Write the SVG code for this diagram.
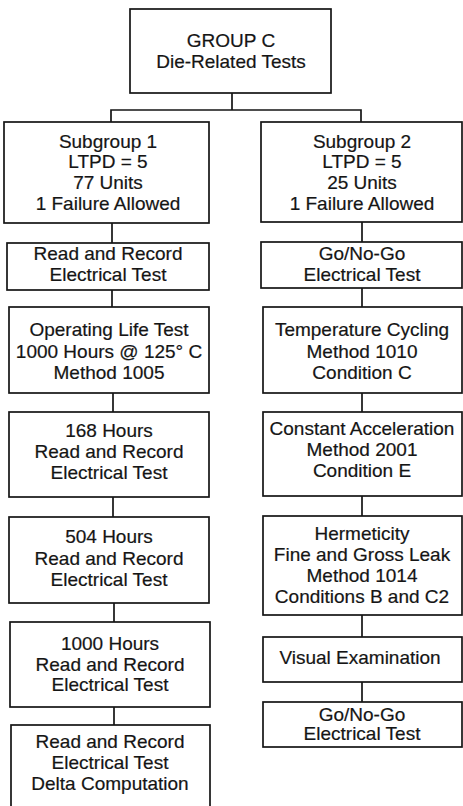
<svg xmlns="http://www.w3.org/2000/svg" width="463" height="806" viewBox="0 0 463 806">
<style>
.b{fill:#fff;stroke:#151515;stroke-width:1.7}
.c{fill:none;stroke:#151515;stroke-width:1.7}
text{font-family:"Liberation Sans",Arial,Helvetica,sans-serif;font-size:19px;fill:#151515;stroke:#151515;stroke-width:0.2;text-anchor:middle}
</style>
<rect width="463" height="806" fill="#fff"/>
<g id="connectors">
<path class="c" d="M232 93V110M111 122V110H361V122"/>
<path class="c" d="M112 223V243M112 290V307M113 393V412M113 497V517M114 603V622M114 707V725"/>
<path class="c" d="M362 222V242M362 288V307M362 393V412M362 496V516M362 615V637M362 682V702"/>
</g>
<g id="groupC"><rect class="b" x="130" y="9" width="201" height="84"/><text x="231" y="47">GROUP C</text><text x="231" y="68">Die-Related Tests</text></g>
<g id="sub1"><rect class="b" x="4" y="122" width="205" height="101"/><text x="108" y="148">Subgroup 1</text><text x="108" y="168">LTPD = 5</text><text x="108" y="189">77 Units</text><text x="108" y="210">1 Failure Allowed</text></g>
<g id="l1"><rect class="b" x="7" y="243" width="202" height="47"/><text x="108" y="260">Read and Record</text><text x="108" y="281">Electrical Test</text></g>
<g id="l2"><rect class="b" x="9" y="307" width="200" height="86"/><text x="109" y="336">Operating Life Test</text><text x="109" y="357.5">1000 Hours @ 125° C</text><text x="109" y="379">Method 1005</text></g>
<g id="l3"><rect class="b" x="9" y="412" width="200" height="85"/><text x="109" y="437">168 Hours</text><text x="109" y="458">Read and Record</text><text x="109" y="479">Electrical Test</text></g>
<g id="l4"><rect class="b" x="9" y="517" width="200" height="86"/><text x="109" y="543">504 Hours</text><text x="109" y="564.5">Read and Record</text><text x="109" y="585.5">Electrical Test</text></g>
<g id="l5"><rect class="b" x="10" y="622" width="200" height="85"/><text x="110" y="650">1000 Hours</text><text x="110" y="671">Read and Record</text><text x="110" y="691">Electrical Test</text></g>
<g id="l6"><rect class="b" x="11" y="725" width="199" height="84"/><text x="110" y="748">Read and Record</text><text x="110" y="769">Electrical Test</text><text x="110" y="790">Delta Computation</text></g>
<g id="sub2"><rect class="b" x="261" y="122" width="201" height="100"/><text x="362" y="148">Subgroup 2</text><text x="362" y="168">LTPD = 5</text><text x="362" y="189">25 Units</text><text x="362" y="210">1 Failure Allowed</text></g>
<g id="r1"><rect class="b" x="261" y="242" width="201" height="46"/><text x="362" y="260">Go/No-Go</text><text x="362" y="281">Electrical Test</text></g>
<g id="r2"><rect class="b" x="263" y="307" width="199" height="86"/><text x="362" y="336">Temperature Cycling</text><text x="362" y="357.5">Method 1010</text><text x="362" y="379">Condition C</text></g>
<g id="r3"><rect class="b" x="263" y="412" width="199" height="84"/><text x="362" y="435">Constant Acceleration</text><text x="362" y="456">Method 2001</text><text x="362" y="477">Condition E</text></g>
<g id="r4"><rect class="b" x="263" y="516" width="199" height="99"/><text x="362" y="540">Hermeticity</text><text x="362" y="561">Fine and Gross Leak</text><text x="362" y="582">Method 1014</text><text x="362" y="603">Conditions B and C2</text></g>
<g id="r5"><rect class="b" x="263" y="637" width="199" height="45"/><text x="360" y="664">Visual Examination</text></g>
<g id="r6"><rect class="b" x="263" y="702" width="199" height="45"/><text x="362" y="720.5">Go/No-Go</text><text x="362" y="740">Electrical Test</text></g>
</svg>
